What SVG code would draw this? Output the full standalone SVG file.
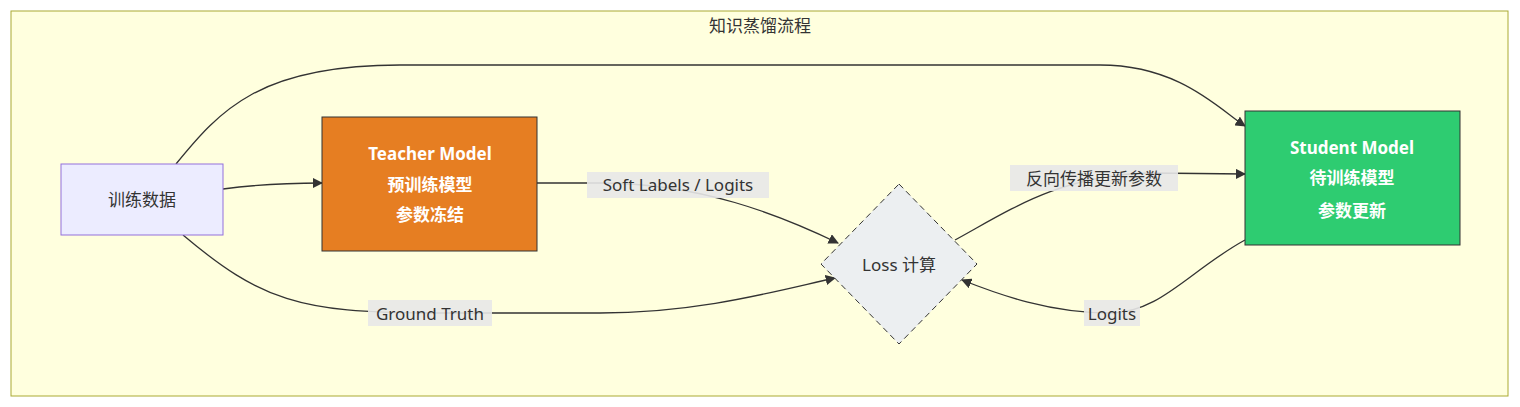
<svg xmlns="http://www.w3.org/2000/svg" width="1520" height="407" viewBox="0 0 1520 407">
<style>
text{font-family:"Noto Sans","Noto Sans CJK SC",sans-serif;font-size:17px;fill:#333;text-anchor:middle;dominant-baseline:central}
.w{fill:#fff;font-weight:bold}
.e{fill:none;stroke:#333;stroke-width:1.3;marker-end:url(#a)}
.lb{fill:#e8e8e8;opacity:0.9}
</style>
<defs><marker id="a" viewBox="0 0 10 10" refX="9" refY="5" markerWidth="8" markerHeight="8" orient="auto"><path d="M0,0L10,5L0,10z" fill="#333"/></marker></defs>
<rect x="11" y="11" width="1497" height="385" fill="#ffffde" stroke="#aaaa33"/>
<text x="760" y="25">知识蒸馏流程</text>
<g id="edges">
<path class="e" d="M223,189 C260,184 290,183 322,183"/>
<path class="e" d="M176,164 C220,110 260,65 400,65 L1100,65 C1180,65 1220,110 1245,126"/>
<path class="e" d="M537,183 L600,183 C700,183 780,215 838,243"/>
<path class="e" d="M183,235 C260,300 300,313 430,313 L600,313 C700,313 780,290 835,278"/>
<path class="e" d="M955,240 C1010,210 1060,175 1150,173 L1245,174"/>
<path class="e" d="M1245,240 C1190,270 1160,313 1110,313 C1050,313 1000,295 962,280"/>
<rect class="lb" x="587" y="172" width="182" height="26"/><text x="678" y="184">Soft Labels / Logits</text>
<rect class="lb" x="368" y="300" width="124" height="26"/><text x="430" y="313">Ground Truth</text>
<rect class="lb" x="1010" y="165" width="168" height="26"/><text x="1094" y="178">反向传播更新参数</text>
<rect class="lb" x="1084" y="300" width="56" height="26"/><text x="1112" y="313">Logits</text>
</g>
<g id="data"><rect x="61" y="164" width="162" height="71" fill="#ECECFF" stroke="#9370DB"/><text x="142" y="199">训练数据</text></g>
<g id="teacher"><rect x="322" y="117" width="215" height="134" fill="#E67E22" stroke="#333"/><text class="w" x="430" y="153">Teacher Model</text><text class="w" x="430" y="184">预训练模型</text><text class="w" x="430" y="214">参数冻结</text></g>
<g id="loss"><path d="M899,184 L977,264 L899,344 L821,264z" fill="#ECEFF1" stroke="#333" stroke-dasharray="6 4"/><text x="899" y="264">Loss 计算</text></g>
<g id="student"><rect x="1245" y="111" width="215" height="134" fill="#2ECC71" stroke="#333"/><text class="w" x="1352" y="147">Student Model</text><text class="w" x="1352" y="177">待训练模型</text><text class="w" x="1352" y="210">参数更新</text></g>
</svg>
